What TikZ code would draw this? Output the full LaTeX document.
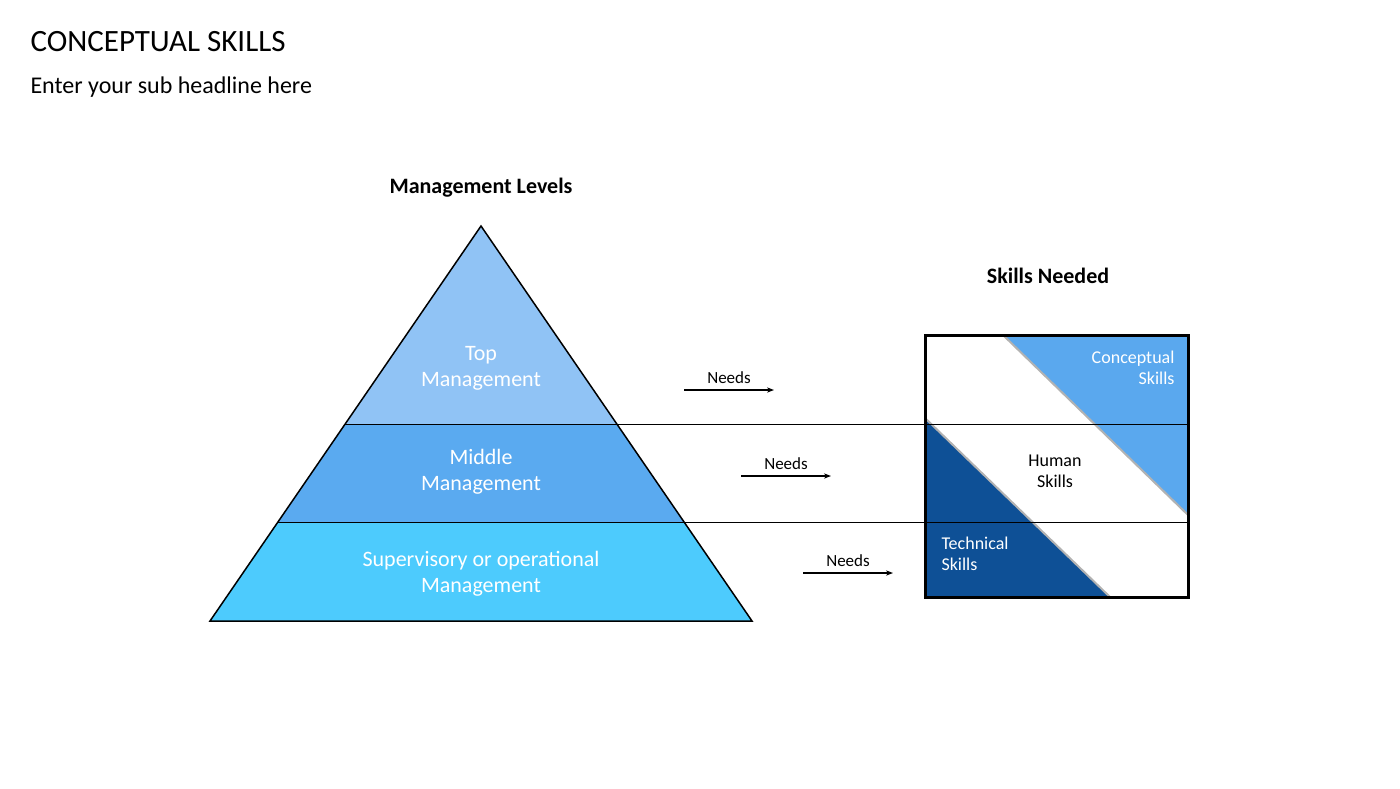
\documentclass[tikz,border=0pt]{standalone}
\usepackage{fontspec}
\setmainfont{Carlito}
\usetikzlibrary{calc}
\usetikzlibrary{arrows.meta}
\definecolor{TopBlue}{HTML}{90C3F5}
\definecolor{MidBlue}{HTML}{5AAAF0}
\definecolor{LowBlue}{HTML}{4DCBFD}
\definecolor{ConcBlue}{HTML}{5AA8EE}
\definecolor{TechBlue}{HTML}{0E5096}
\tikzset{
  level/.style={text=white, font=\fontsize{22}{26}\selectfont, align=center},
  needs/.style={font=\fontsize{17}{20}\selectfont},
  skill/.style={font=\fontsize{18}{21}\selectfont, align=left},
  heading/.style={font=\bfseries\fontsize{22}{26}\selectfont},
  arr/.style={-{Stealth[length=7pt]}, line width=1.3pt}
}
\begin{document}
\begin{tikzpicture}[x=1pt,y=-1pt]
        \useasboundingbox (0,0) rectangle (1400,788);

        \node[anchor=west, font=\fontsize{31}{36}\selectfont] (title) at (27,42) {CONCEPTUAL SKILLS};
        \node[anchor=west, font=\fontsize{24}{28}\selectfont] (sub) at (27,87) {Enter your sub headline here};

        % pyramid
        \coordinate (apex) at (481,226);
        \coordinate (bl) at (210,621);
        \coordinate (br) at (752,621);
        \coordinate (ml) at (345,424);
        \coordinate (mr) at (617,424);
        \coordinate (ll) at (278,522);
        \coordinate (lr) at (684,522);
        \fill[TopBlue] (apex) -- (ml) -- (mr) -- cycle;
        \fill[MidBlue] (ml) -- (ll) -- (lr) -- (mr) -- cycle;
        \fill[LowBlue] (ll) -- (bl) -- (br) -- (lr) -- cycle;
        \draw[line width=1.5pt] (apex) -- (bl) -- (br) -- cycle;
        \draw[line width=1pt] (ml) -- (mr) (ll) -- (lr);

        \node[heading] (mlev) at (481,188) {Management Levels};
        \node[level] (top) at (481,368) {Top\\Management};
        \node[level] (mid) at (481,472) {Middle\\Management};
        \node[level] (low) at (481,574) {Supervisory or operational\\Management};

        % skills box
        \coordinate (b1) at (925,335);
        \coordinate (b2) at (1188,597);
        \fill[ConcBlue] (1003,335) -- (1188,335) -- (1188,515) -- cycle;
        \fill[TechBlue] (925,418) -- (1110,597) -- (925,597) -- cycle;
        \draw[gray!60, line width=2pt] (1003,335) -- (1188,515) (925,418) -- (1110,597);
        \draw (mr) -- (1188,424) (lr) -- (1188,522);
        \draw[line width=3pt] (b1) rectangle (b2);

        \node[heading] (sneed) at (1048,276) {Skills Needed};
        \node[skill, text=white, align=right, anchor=north east] (conc) at (1178,347) {Conceptual\\Skills};
        \node[skill, align=center] (human) at (1055,471) {Human\\Skills};
        \node[skill, text=white, anchor=north west] (tech) at (938,533) {Technical\\Skills};

        % needs arrows
        \foreach \i/\x/\y in {1/684/390, 2/741/476, 3/803/573} {
          \coordinate (s\i) at (\x,\y);
          \coordinate (e\i) at (\x+90,\y);
          \draw[arr] (s\i) -- (e\i);
          \node[needs, above=3pt] (n\i) at ($(s\i)!0.5!(e\i)$) {Needs};
        }
    \end{tikzpicture}
\end{document}
